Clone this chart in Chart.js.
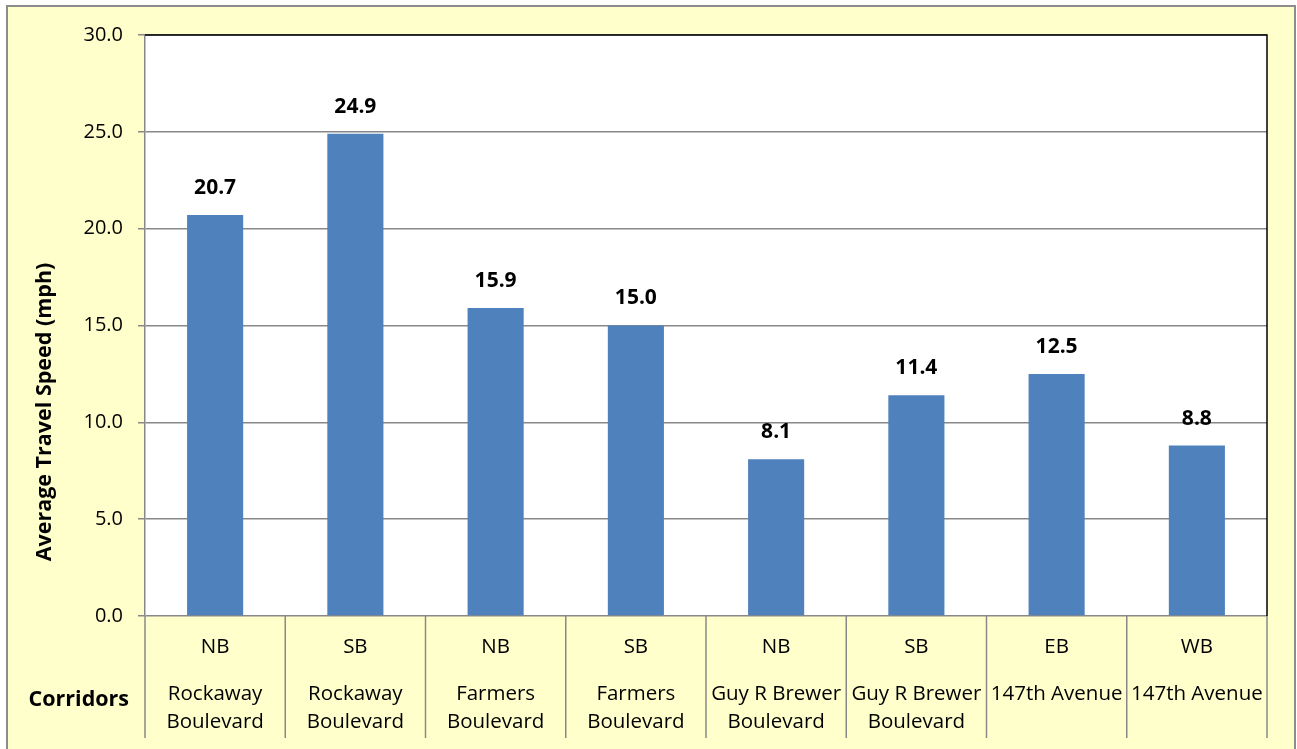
<!DOCTYPE html>
<html>
<head>
<meta charset="utf-8">
<script src="https://cdn.jsdelivr.net/npm/chart.js@4"></script>
<style>
  html, body { margin: 0; padding: 0; background: #fff; }
  #wrap { width: 1297px; height: 749px; position: relative; }
</style>
</head>
<body>
<div id="wrap"><canvas id="speedChart"></canvas></div>
<script>
const directions = ['NB', 'SB', 'NB', 'SB', 'NB', 'SB', 'EB', 'WB'];
const corridors = [
  ['Rockaway', 'Boulevard'],
  ['Rockaway', 'Boulevard'],
  ['Farmers', 'Boulevard'],
  ['Farmers', 'Boulevard'],
  ['Guy R Brewer', 'Boulevard'],
  ['Guy R Brewer', 'Boulevard'],
  ['147th Avenue'],
  ['147th Avenue']
];
const speeds = [20.7, 24.9, 15.9, 15.0, 8.1, 11.4, 12.5, 8.8];
const yTicks = [0, 5, 10, 15, 20, 25, 30];

const FONT = '"Open Sans", Lato, sans-serif';
const GRID = '#888888';

// frame + cream background
const backdrop = {
  id: 'backdrop',
  beforeDraw(chart) {
    const ctx = chart.ctx;
    const a = chart.chartArea;
    ctx.save();
    ctx.fillStyle = '#ffffcc';
    ctx.fillRect(7, 6, 1288, 760);
    ctx.strokeStyle = '#8c8c8c';
    ctx.lineWidth = 2;
    ctx.strokeRect(7, 6, 1288, 760);
    ctx.fillStyle = '#ffffff';
    ctx.fillRect(a.left, a.top, a.right - a.left, a.bottom - a.top);
    ctx.restore();
  }
};

// value labels, plot border, category table under the axis
const extras = {
  id: 'extras',
  afterDraw(chart) {
    const ctx = chart.ctx;
    const a = chart.chartArea;
    const x = chart.scales.x;
    ctx.save();

    // top + right border of the plot
    ctx.strokeStyle = '#000';
    ctx.lineWidth = 1.5;
    ctx.beginPath();
    ctx.moveTo(a.left, a.top);
    ctx.lineTo(a.right, a.top);
    ctx.lineTo(a.right, a.bottom);
    ctx.stroke();

    // data labels
    const meta = chart.getDatasetMeta(0);
    ctx.fillStyle = '#000';
    ctx.font = 'bold 21px ' + FONT;
    ctx.textAlign = 'center';
    ctx.textBaseline = 'middle';
    meta.data.forEach((bar, i) => {
      ctx.fillText(speeds[i].toFixed(1), bar.x, bar.y - 27);
    });

    // separators
    const step = (a.right - a.left) / directions.length;
    ctx.strokeStyle = GRID;
    ctx.lineWidth = 1.5;
    for (let i = 0; i <= directions.length; i++) {
      const px = a.left + i * step;
      ctx.beginPath();
      ctx.moveTo(px, a.bottom);
      ctx.lineTo(px, 738);
      ctx.stroke();
    }

    // category text
    ctx.font = '20.5px ' + FONT;
    directions.forEach((d, i) => {
      const cx = x.getPixelForValue(i);
      ctx.fillText(d, cx, 647);
      const lines = corridors[i];
      lines.forEach((ln, j) => ctx.fillText(ln, cx, 694 + j * 28));
    });

    ctx.font = 'bold 21.5px ' + FONT;
    ctx.textAlign = 'right';
    ctx.fillText('Corridors', 129, 700);

    // y title
    ctx.translate(45, 412);
    ctx.rotate(-Math.PI / 2);
    ctx.textAlign = 'center';
    ctx.font = 'bold 21.5px ' + FONT;
    ctx.fillText('Average Travel Speed (mph)', 0, 0);
    ctx.restore();
  }
};

new Chart(document.getElementById('speedChart'), {
  type: 'bar',
  data: {
    labels: directions.map((d, i) => d + ' ' + corridors[i].join(' ')),
    datasets: [{
      data: speeds,
      backgroundColor: '#4f81bd',
      borderWidth: 0,
      categoryPercentage: 1,
      barPercentage: 0.4
    }]
  },
  options: {
    responsive: true,
    maintainAspectRatio: false,
    animation: false,
    layout: { padding: { left: 0, top: 35, right: 30, bottom: 133 } },
    plugins: { legend: { display: false }, tooltip: { enabled: false } },
    scales: {
      x: {
        ticks: { display: false },
        grid: { display: false },
        border: { display: false },
        afterFit: s => { s.height = 0; }
      },
      y: {
        min: 0,
        max: 30,
        afterBuildTicks: s => { s.ticks = yTicks.map(v => ({ value: v })); },
        afterFit: s => { s.width = 145; },
        ticks: {
          padding: 15,
          color: '#000',
          font: { family: FONT, size: 20 },
          callback: v => Number(v).toFixed(1)
        },
        grid: { color: GRID, lineWidth: 1.5, tickLength: 7 },
        border: { color: GRID, width: 1.5 }
      }
    }
  },
  plugins: [backdrop, extras]
});
</script>
</body>
</html>
